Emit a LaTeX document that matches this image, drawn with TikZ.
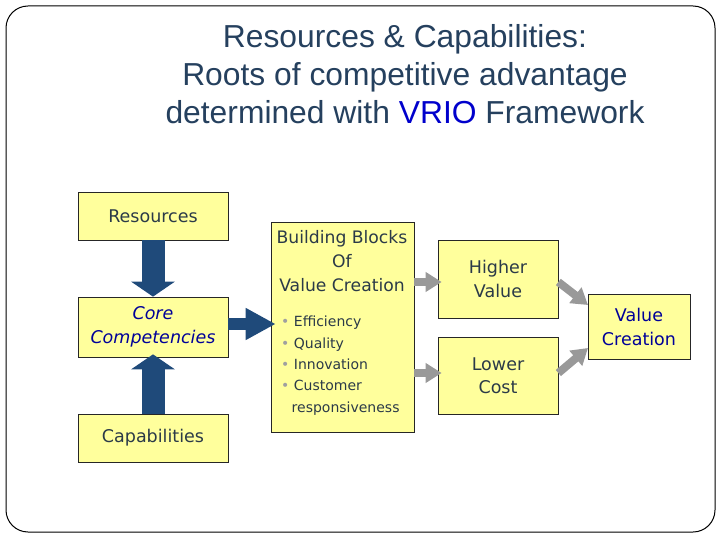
\documentclass[tikz,border=0pt]{standalone}
\usepackage{fontspec}
\setmainfont{DejaVu Sans}
\newfontfamily\titlefont{Liberation Sans}
\usetikzlibrary{arrows.meta}
\definecolor{boxfill}{HTML}{FFFF9C}
\definecolor{txt}{HTML}{2B3A48}
\definecolor{titlec}{HTML}{25405E}
\definecolor{vrio}{HTML}{0000CC}
\definecolor{navy}{HTML}{1F4A7A}
\definecolor{garrow}{HTML}{999999}
\definecolor{darkblue}{HTML}{000099}
\definecolor{bulletc}{HTML}{A0A0A0}
\begin{document}
\begin{tikzpicture}[x=1pt,y=-1pt,
  box/.style={draw=black!85, line width=0.7pt, fill=boxfill, inner sep=0pt,
    font=\fontsize{17.5}{23.5}\selectfont, text=txt, align=center},
  bluearrow/.style={draw=navy, line width=23pt, -{Triangle[length=15pt,width=43pt]}},
  rightarrow/.style={draw=navy, line width=12pt, -{Triangle[length=30pt,width=30pt]}},
  grayarrow/.style={draw=garrow, line width=8pt, -{Triangle[length=16pt,width=19pt]}},
  lbl/.style={inner sep=0pt, text=txt, align=center}]
\useasboundingbox (0,0) rectangle (720,540);
\draw[rounded corners=22pt, line width=1pt] (6,6) rectangle (715,532);

\node[align=center, inner sep=0pt, font=\titlefont\fontsize{31.8}{38}\selectfont, text=titlec]
  (title) at (405,74) {Resources \& Capabilities:\\Roots of competitive advantage\\determined with \textcolor{vrio}{VRIO} Framework};

\node[box, minimum width=150pt, minimum height=48pt] (res) at (153,216) {Resources};
\node[box, minimum width=150pt, minimum height=60pt, text=darkblue, font=\fontsize{17.5}{23.5}\selectfont\itshape] (core) at (153,327) {Core\\Competencies};
\node[box, minimum width=150pt, minimum height=48pt] (cap) at (153,438) {Capabilities};
\node[box, minimum width=143pt, minimum height=210pt] (bb) at (342.5,327) {};
\node[box, minimum width=120pt, minimum height=78pt] (hv) at (498,279) {Higher\\Value};
\node[box, minimum width=120pt, minimum height=77pt] (lc) at (498,375.5) {Lower\\Cost};
\node[box, minimum width=102pt, minimum height=65pt, text=darkblue] (vc) at (639,327) {Value\\Creation};

\node[lbl, font=\fontsize{17.2}{24}\selectfont] (bbt) at (342,261) {Building Blocks\\Of\\Value Creation};
\node[lbl, anchor=north west, align=left, font=\fontsize{14}{21.3}\selectfont] (bbl) at (281,316)
  {\textcolor{bulletc}{•} Efficiency\\
   \textcolor{bulletc}{•} Quality\\
   \textcolor{bulletc}{•} Innovation\\
   \textcolor{bulletc}{•} Customer\\
   \hspace*{10.5pt}responsiveness};

\draw[bluearrow] (res.south) -- (core.north);
\draw[bluearrow] (cap.north) -- ([yshift=3pt]core.south);
\coordinate (ya) at (0,324);
\draw[rightarrow] (core.east |- ya) -- ([xshift=5pt]bb.west |- ya);

\coordinate (yb) at (0,282);
\coordinate (yc) at (0,373);
\draw[grayarrow] (bb.east |- yb) -- ([xshift=4pt]hv.west |- yb);
\draw[grayarrow] (bb.east |- yc) -- ([xshift=4pt]lc.west |- yc);
\coordinate (d1) at (588,305);
\coordinate (d2) at (588,348);
\draw[grayarrow] (hv.east |- yb) -- (d1);
\draw[grayarrow] (lc.east |- yc) -- (d2);
\end{tikzpicture}
\end{document}
